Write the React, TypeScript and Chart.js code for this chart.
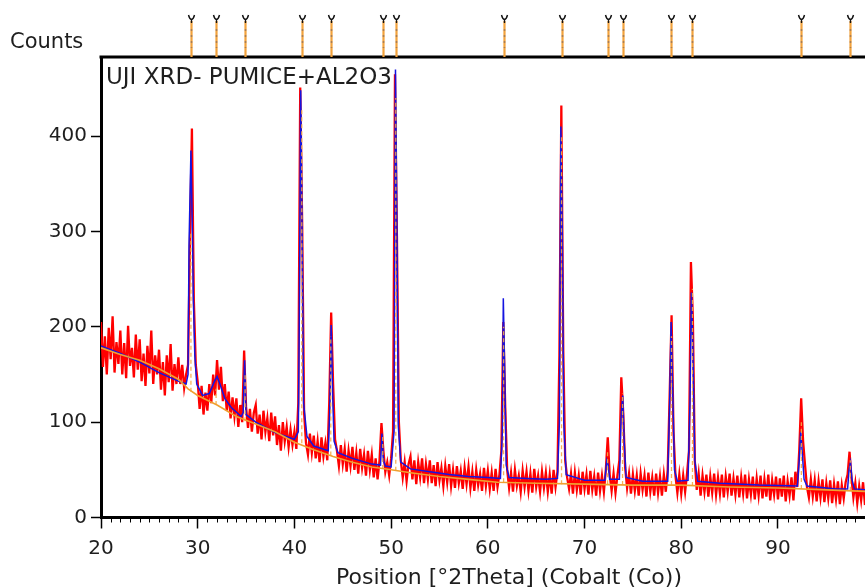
import { useEffect, useRef } from "react";
import { Chart, registerables } from "chart.js";

Chart.register(...registerables);

// ---- data ----
const obsStart = 20;
const obsStep = 0.2;
// observed counts, 20.0° .. 99.8° every 0.2°
const observedCounts = [
  205, 158, 190, 150, 199, 166, 211, 152, 184, 161,
  196, 150, 183, 146, 201, 159, 178, 147, 192, 155,
  187, 143, 172, 138, 180, 151, 196, 140, 170, 150,
  176, 134, 163, 128, 170, 142, 182, 133, 161, 140,
  168, 140, 160, 136, 150, 160, 290, 408, 228, 160,
  142, 114, 138, 108, 131, 112, 140, 120, 150, 128,
  165, 134, 158, 122, 140, 112, 132, 104, 126, 106,
  125, 95, 118, 100, 175, 116, 94, 114, 90, 110,
  118, 88, 108, 82, 112, 90, 104, 80, 110, 86,
  106, 76, 97, 70, 100, 80, 95, 74, 92, 76,
  90, 72, 120, 451, 310, 110, 78, 66, 88, 68,
  86, 62, 80, 58, 84, 64, 78, 60, 120, 215,
  140, 82, 70, 54, 76, 56, 72, 48, 70, 54,
  74, 50, 68, 46, 72, 52, 66, 44, 70, 50,
  66, 42, 62, 40, 60, 99, 70, 48, 58, 44,
  62, 90, 465, 295, 100, 60, 42, 58, 38, 56,
  64, 40, 60, 35, 58, 42, 62, 36, 56, 40,
  60, 36, 55, 33, 58, 39, 52, 33, 54, 37,
  56, 33, 50, 31, 54, 36, 49, 30, 52, 35,
  53, 31, 48, 28, 50, 34, 46, 28, 52, 33,
  49, 30, 47, 28, 51, 32, 45, 70, 205, 115,
  50, 31, 47, 27, 50, 33, 44, 27, 49, 32,
  48, 28, 46, 26, 51, 32, 44, 27, 48, 31,
  47, 27, 45, 25, 50, 32, 48, 170, 432, 175,
  60, 42, 30, 46, 25, 47, 29, 44, 24, 48,
  30, 45, 24, 49, 29, 43, 23, 47, 28, 44,
  27, 50, 84, 45, 28, 46, 26, 44, 60, 147,
  110, 52, 31, 46, 25, 45, 28, 44, 23, 46,
  29, 44, 22, 47, 27, 42, 23, 46, 26, 43,
  23, 45, 27, 50, 128, 212, 90, 44, 26, 45,
  25, 44, 27, 46, 70, 268, 210, 60, 29, 46,
  23, 44, 27, 45, 22, 43, 26, 46, 24, 42,
  25, 45, 21, 43, 27, 46, 23, 41, 24, 44,
  21, 42, 25, 45, 20, 40, 24, 43, 19, 41,
  23, 44, 20, 40, 22, 45, 18, 39, 24, 43,
  19, 41, 22, 44, 17, 38, 23, 42, 18, 48,
  32, 70, 125, 80, 55, 32, 21, 40, 22, 39,
  17, 38, 21, 40, 16, 36, 20, 39, 15, 35,
  19, 38, 14, 34, 20, 37, 45, 69, 42, 21,
  36, 15, 33, 18, 37, 13, 32, 17, 34, 15,
];

// calculated profile: [2theta, counts]
const calcProfile: [number, number][] = [
  [20, 180], [22, 172], [24, 163], [26, 152], [28, 143], [28.8, 140], [29.0, 150],
  [29.1, 285], [29.3, 385], [29.45, 300], [29.55, 230], [29.7, 170], [29.9, 140],
  [30.5, 128], [31.2, 130], [31.7, 142], [32.0, 148], [32.3, 140], [32.8, 125],
  [33.5, 115], [34.5, 106], [34.7, 110], [34.85, 165], [35.0, 108], [36, 100],
  [38, 89], [40, 82], [40.4, 90], [40.5, 200], [40.65, 448], [40.8, 300], [40.95, 120],
  [41.3, 85], [42, 75], [43.5, 70], [43.65, 110], [43.8, 202], [43.95, 130], [44.1, 80],
  [44.5, 68], [46, 62], [48, 56], [48.9, 55], [49.05, 88], [49.2, 60], [49.4, 54],
  [50.0, 53], [50.3, 90], [50.45, 470], [50.6, 300], [50.75, 95], [51, 58], [52, 51],
  [54, 48], [56, 45], [58, 43], [60, 42], [61.3, 41], [61.5, 90], [61.6, 230],
  [61.75, 150], [61.9, 55], [62.2, 42], [64, 41], [66, 40], [67.2, 41], [67.4, 100],
  [67.55, 410], [67.7, 300], [67.85, 100], [68.1, 45], [70, 39], [72.1, 39], [72.3, 60],
  [72.45, 55], [72.6, 40], [73.6, 40], [73.8, 110], [73.95, 128], [74.1, 80], [74.3, 42],
  [76, 38], [78.6, 38], [78.8, 120], [78.95, 205], [79.1, 140], [79.3, 50], [79.6, 38],
  [80.7, 39], [80.9, 120], [81.05, 236], [81.2, 180], [81.4, 60], [81.7, 38], [84, 36],
  [88, 34], [92.0, 33], [92.2, 60], [92.35, 90], [92.5, 70], [92.7, 40], [93.0, 33],
  [96, 30], [97.2, 30], [97.35, 50], [97.5, 58], [97.65, 40], [97.9, 30], [99, 29], [100, 28],
];

// background: [2theta, counts]
const backgroundLine: [number, number][] = [
  [20, 178], [22, 171], [24, 165], [26, 156], [28, 145], [29, 135], [30, 128], [32, 118],
  [34, 106], [36, 98], [38, 90], [40, 79], [42, 71], [44, 64], [46, 58], [48, 53],
  [50, 50], [52, 47], [55, 43], [58, 40], [61, 37], [65, 36], [70, 35], [75, 34],
  [80, 34], [85, 32], [90, 31], [95, 29], [100, 27],
];

// reference peak list
const refPeakPositions = [29.3, 31.9, 34.9, 40.76, 43.76, 49.13, 50.48, 61.63, 67.62, 72.38, 73.93, 78.99, 81.16, 92.42, 97.48];
const refPeakBase = [132, 118, 101, 78, 65, 51, 49, 37, 35, 35, 34, 34, 33, 30, 28];
const refPeakTop = [300, 135, 150, 430, 190, 85, 440, 200, 400, 70, 130, 190, 240, 100, 60];

const xTicks = [20, 30, 40, 50, 60, 70, 80, 90];
const yTicks = [0, 100, 200, 300, 400];
const xMin = 20;
const xMax = 99;
const yMin = 0;
const yMax = 483;

const yAxisTitle = "Counts";
const xAxisTitle = "Position [°2Theta] (Cobalt (Co))";
const sampleTitle = "UJI XRD- PUMICE+AL2O3";

const FONT = '"DejaVu Sans", "Noto Sans", sans-serif';
const TEXT = "#1e1e1e";

const decorPlugin = {
  id: "decor",
  afterDraw(chart: any) {
    const { ctx, chartArea } = chart;
    const xs = chart.scales.x;
    ctx.save();
    // minor ticks on x axis
    ctx.strokeStyle = "#000";
    ctx.lineWidth = 1;
    for (let v = Math.ceil(xs.min); v <= xs.max; v++) {
      if (v % 10 === 0) continue;
      const px = Math.round(xs.getPixelForValue(v)) + 0.5;
      ctx.beginPath();
      ctx.moveTo(px, chartArea.bottom);
      ctx.lineTo(px, chartArea.bottom + 5);
      ctx.stroke();
    }
    // top frame
    ctx.lineWidth = 3;
    ctx.beginPath();
    ctx.moveTo(chartArea.left - 1.5, chartArea.top);
    ctx.lineTo(chartArea.right + 2, chartArea.top);
    ctx.stroke();
    // reference markers above the plot
    refPeakPositions.forEach((p) => {
      const px = Math.round(xs.getPixelForValue(p)) + 0.5;
      ctx.strokeStyle = "#f2a23c";
      ctx.lineWidth = 2.2;
      ctx.beginPath();
      ctx.moveTo(px, 21);
      ctx.lineTo(px, chartArea.top);
      ctx.stroke();
      ctx.strokeStyle = "rgba(140,110,90,0.7)";
      ctx.lineWidth = 1.6;
      ctx.setLineDash([2, 4]);
      ctx.beginPath();
      ctx.moveTo(px, 29);
      ctx.lineTo(px, 48);
      ctx.stroke();
      ctx.setLineDash([]);
      ctx.strokeStyle = "#111";
      ctx.lineWidth = 1.4;
      ctx.beginPath();
      ctx.moveTo(px - 3, 15);
      ctx.quadraticCurveTo(px - 2, 19, px, 19.5);
      ctx.quadraticCurveTo(px + 2, 19, px + 3, 15);
      ctx.moveTo(px, 19.5);
      ctx.lineTo(px, 23);
      ctx.stroke();
    });
    // texts
    ctx.fillStyle = TEXT;
    ctx.textAlign = "left";
    ctx.textBaseline = "alphabetic";
    ctx.font = `21px ${FONT}`;
    ctx.fillText(yAxisTitle, 10, 48);
    ctx.font = `23px ${FONT}`;
    ctx.fillText(sampleTitle, 106, 84);
    ctx.font = `22px ${FONT}`;
    ctx.textAlign = "center";
    ctx.fillText(xAxisTitle, 509, 584);
    ctx.restore();
  },
};

export default function App() {
  const ref = useRef<HTMLCanvasElement | null>(null);

  useEffect(() => {
    if (!ref.current) return;
    const observed = observedCounts.map((y, i) => ({ x: obsStart + i * obsStep, y }));
    const calc = calcProfile.map(([x, y]) => ({ x, y }));
    const bg = backgroundLine.map(([x, y]) => ({ x, y }));
    const sticks: any[] = [];
    refPeakPositions.forEach((p, i) => {
      sticks.push({ x: p, y: refPeakBase[i] });
      sticks.push({ x: p, y: refPeakTop[i] });
      sticks.push({ x: p, y: null });
    });

    const chart = new Chart(ref.current, {
      type: "line",
      data: {
        datasets: [
          { data: bg, borderColor: "#f0a030", borderWidth: 1.6, pointRadius: 0, order: 0 },
          { data: sticks, borderColor: "rgba(245,170,70,0.9)", borderWidth: 1.3, borderDash: [4, 3], pointRadius: 0, spanGaps: false, order: 1 },
          { data: calc, borderColor: "#1414e0", borderWidth: 1.5, pointRadius: 0, order: 2 },
          { data: observed, borderColor: "#ff0000", borderWidth: 2.3, pointRadius: 0, order: 3 },
        ],
      },
      options: {
        responsive: false,
        animation: false,
        devicePixelRatio: 1,
        parsing: true,
        layout: { padding: { left: 0, right: 0, top: 57, bottom: 0 } },
        plugins: { legend: { display: false }, tooltip: { enabled: false }, title: { display: false } },
        elements: { line: { tension: 0 } },
        scales: {
          x: {
            type: "linear",
            min: xMin,
            max: xMax,
            afterBuildTicks: (s: any) => {
              s.ticks = xTicks.map((v) => ({ value: v }));
            },
            afterFit: (s: any) => {
              s.height = 69.5;
            },
            ticks: {
              autoSkip: false,
              maxRotation: 0,
              padding: 8,
              color: TEXT,
              font: { family: FONT, size: 20 },
            },
            grid: { display: true, drawOnChartArea: false, drawTicks: true, tickLength: 11, tickColor: "#000", tickWidth: 1.5 },
            border: { display: true, color: "#000", width: 3 },
          },
          y: {
            type: "linear",
            min: yMin,
            max: yMax,
            afterBuildTicks: (s: any) => {
              s.ticks = yTicks.map((v) => ({ value: v }));
            },
            afterFit: (s: any) => {
              s.width = 101;
            },
            ticks: {
              padding: 4,
              color: TEXT,
              font: { family: FONT, size: 20 },
            },
            grid: { display: true, drawOnChartArea: false, drawTicks: true, tickLength: 10, tickColor: "#000", tickWidth: 1.5 },
            border: { display: true, color: "#000", width: 3 },
          },
        },
      },
      plugins: [decorPlugin],
    });
    return () => chart.destroy();
  }, []);

  return (
    <div style={{ position: "fixed", left: 0, top: 0, width: 865, height: 587, background: "#fff" }}>
      <canvas ref={ref} width={865} height={587} style={{ display: "block" }} />
    </div>
  );
}
